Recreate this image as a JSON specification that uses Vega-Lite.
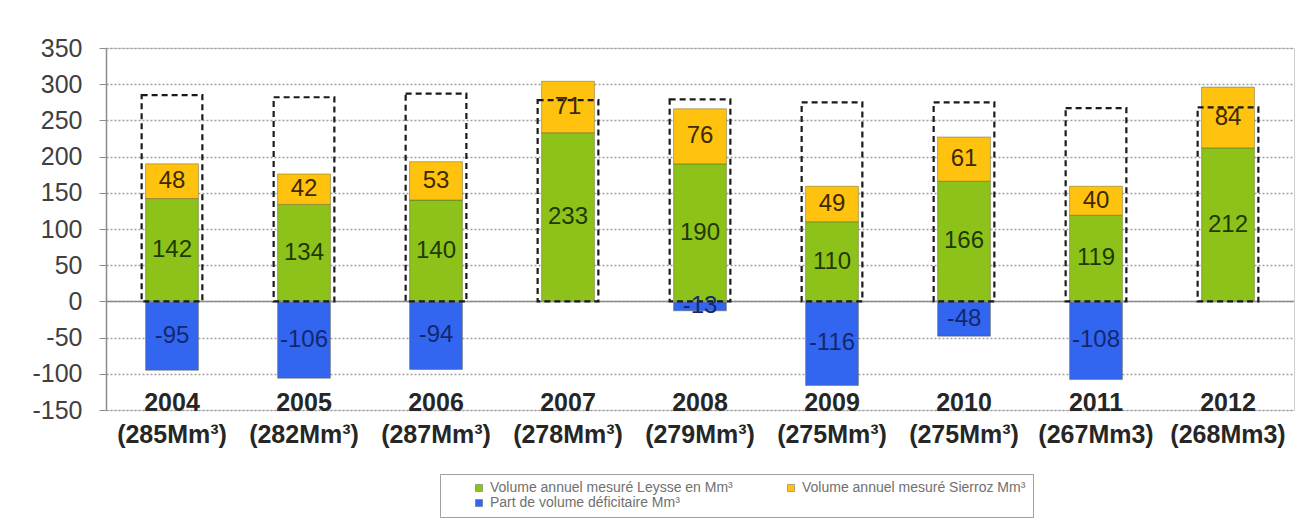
{
  "$schema": "https://vega.github.io/schema/vega-lite/v6.json",
  "width": 1188,
  "height": 362,
  "autosize": {"type": "none"},
  "padding": {"left": 106, "top": 48, "right": 15, "bottom": 111},
  "background": "white",
  "config": {
    "font": "Liberation Sans",
    "view": {"stroke": "#cfcfcf", "strokeWidth": 1},
    "axisY": {"labelOverlap": false, "labelBound": false, "labelFontSize": 25, "labelColor": "#404040", "labelPadding": 17, "tickCount": 12},
    "axisX": {"labelOverlap": false}
  },
  "datasets": {
    "vol": [
      {"periode": "2004 (285Mm³)", "serie": "Volume annuel mesuré Leysse en Mm³", "valeur": 142},
      {"periode": "2004 (285Mm³)", "serie": "Volume annuel mesuré Sierroz Mm³", "valeur": 48},
      {"periode": "2004 (285Mm³)", "serie": "Part de volume déficitaire Mm³", "valeur": -95},
      {"periode": "2005 (282Mm³)", "serie": "Volume annuel mesuré Leysse en Mm³", "valeur": 134},
      {"periode": "2005 (282Mm³)", "serie": "Volume annuel mesuré Sierroz Mm³", "valeur": 42},
      {"periode": "2005 (282Mm³)", "serie": "Part de volume déficitaire Mm³", "valeur": -106},
      {"periode": "2006 (287Mm³)", "serie": "Volume annuel mesuré Leysse en Mm³", "valeur": 140},
      {"periode": "2006 (287Mm³)", "serie": "Volume annuel mesuré Sierroz Mm³", "valeur": 53},
      {"periode": "2006 (287Mm³)", "serie": "Part de volume déficitaire Mm³", "valeur": -94},
      {"periode": "2007 (278Mm³)", "serie": "Volume annuel mesuré Leysse en Mm³", "valeur": 233},
      {"periode": "2007 (278Mm³)", "serie": "Volume annuel mesuré Sierroz Mm³", "valeur": 71},
      {"periode": "2008 (279Mm³)", "serie": "Volume annuel mesuré Leysse en Mm³", "valeur": 190},
      {"periode": "2008 (279Mm³)", "serie": "Volume annuel mesuré Sierroz Mm³", "valeur": 76},
      {"periode": "2008 (279Mm³)", "serie": "Part de volume déficitaire Mm³", "valeur": -13},
      {"periode": "2009 (275Mm³)", "serie": "Volume annuel mesuré Leysse en Mm³", "valeur": 110},
      {"periode": "2009 (275Mm³)", "serie": "Volume annuel mesuré Sierroz Mm³", "valeur": 49},
      {"periode": "2009 (275Mm³)", "serie": "Part de volume déficitaire Mm³", "valeur": -116},
      {"periode": "2010 (275Mm³)", "serie": "Volume annuel mesuré Leysse en Mm³", "valeur": 166},
      {"periode": "2010 (275Mm³)", "serie": "Volume annuel mesuré Sierroz Mm³", "valeur": 61},
      {"periode": "2010 (275Mm³)", "serie": "Part de volume déficitaire Mm³", "valeur": -48},
      {"periode": "2011 (267Mm3)", "serie": "Volume annuel mesuré Leysse en Mm³", "valeur": 119},
      {"periode": "2011 (267Mm3)", "serie": "Volume annuel mesuré Sierroz Mm³", "valeur": 40},
      {"periode": "2011 (267Mm3)", "serie": "Part de volume déficitaire Mm³", "valeur": -108},
      {"periode": "2012 (268Mm3)", "serie": "Volume annuel mesuré Leysse en Mm³", "valeur": 212},
      {"periode": "2012 (268Mm3)", "serie": "Volume annuel mesuré Sierroz Mm³", "valeur": 84}
    ],
    "tot": [
      {"periode": "2004 (285Mm³)", "total": 285},
      {"periode": "2005 (282Mm³)", "total": 282},
      {"periode": "2006 (287Mm³)", "total": 287},
      {"periode": "2007 (278Mm³)", "total": 278},
      {"periode": "2008 (279Mm³)", "total": 279},
      {"periode": "2009 (275Mm³)", "total": 275},
      {"periode": "2010 (275Mm³)", "total": 275},
      {"periode": "2011 (267Mm3)", "total": 267},
      {"periode": "2012 (268Mm3)", "total": 268}
    ]
  },
  "layer": [
    {
      "data": {"name": "vol"},
      "mark": {"type": "bar", "width": {"band": 0.4}, "stroke": "#5a5a2a", "strokeWidth": 1, "strokeOpacity": 0.45},
      "encoding": {
        "x": {
          "field": "periode", "type": "nominal", "sort": null,
          "scale": {"paddingInner": 0, "paddingOuter": 0},
          "axis": {
            "title": null, "labelExpr": "split(datum.value, ' ')", "labelAngle": 0,
            "labelFontSize": 25, "labelFontWeight": "bold", "labelColor": "#262626",
            "labelPadding": -20, "labelLineHeight": 32, "labelOverlap": false, "labelLimit": 0,
            "ticks": false, "domain": false, "grid": false
          }
        },
        "y": {
          "field": "valeur", "type": "quantitative", "stack": "zero",
          "scale": {"domain": [-150, 350], "nice": false, "zero": false},
          "axis": {
            "title": null, "values": [-150, -100, -50, 0, 50, 100, 150, 200, 250, 300, 350], "tickCount": 12,
            "labelExpr": "'' + datum.value", "labelOverlap": false, "labelBound": false,
            "labelFontSize": 25, "labelColor": "#404040", "labelPadding": 17,
            "tickSize": 7, "tickColor": "#8c8c8c", "domainColor": "#8c8c8c", "domainWidth": 1.5,
            "grid": true, "gridColor": "#a0a0a0", "gridDash": [2, 2], "gridWidth": 1.6
          }
        },
        "order": {"field": "serie", "sort": "ascending"},
        "color": {
          "field": "serie", "type": "nominal",
          "scale": {
            "domain": ["Volume annuel mesuré Leysse en Mm³", "Volume annuel mesuré Sierroz Mm³", "Part de volume déficitaire Mm³"],
            "range": ["#8dc21a", "#ffc30f", "#3366f0"]
          },
          "legend": {
            "title": null, "orient": "none", "legendX": 334, "legendY": 426,
            "columns": 2, "direction": "horizontal", "symbolType": "square", "symbolSize": 50,
            "symbolStrokeColor": "#666", "symbolStrokeWidth": 0.5,
            "labelFontSize": 14, "labelColor": "#707070", "labelLimit": 0,
            "strokeColor": "#a0a0a0", "fillColor": "white", "padding": 7,
            "symbolOffset": 25, "columnPadding": 26, "rowPadding": 1
          }
        }
      }
    },
    {
      "data": {"values": [{}]},
      "mark": {"type": "rule", "color": "#8c8c8c", "strokeWidth": 1.5},
      "encoding": {"y": {"datum": 0}}
    },
    {
      "data": {"name": "tot"},
      "mark": {"type": "bar", "width": {"band": 0.46}, "fill": "transparent", "stroke": "#1a1a1a", "strokeWidth": 2.2, "strokeDash": [6, 4]},
      "encoding": {
        "x": {"field": "periode", "type": "nominal", "sort": null},
        "y": {"field": "total", "type": "quantitative"},
        "y2": {"datum": 0}
      }
    },
    {
      "data": {"name": "vol"},
      "transform": [
        {"stack": "valeur", "groupby": ["periode"], "sort": [{"field": "serie", "order": "ascending"}], "as": ["v0", "v1"]},
        {"calculate": "(datum.v0 + datum.v1) / 2", "as": "milieu"}
      ],
      "mark": {"type": "text", "fontSize": 24, "baseline": "middle", "align": "center"},
      "encoding": {
        "x": {"field": "periode", "type": "nominal", "sort": null},
        "y": {"field": "milieu", "type": "quantitative"},
        "text": {"field": "valeur", "type": "nominal"},
        "color": {
          "condition": [
            {"test": "datum.serie === 'Part de volume déficitaire Mm³'", "value": "#14286e"},
            {"test": "datum.serie === 'Volume annuel mesuré Sierroz Mm³'", "value": "#3d2a00"}
          ],
          "value": "#1f3a00"
        }
      }
    }
  ]
}
